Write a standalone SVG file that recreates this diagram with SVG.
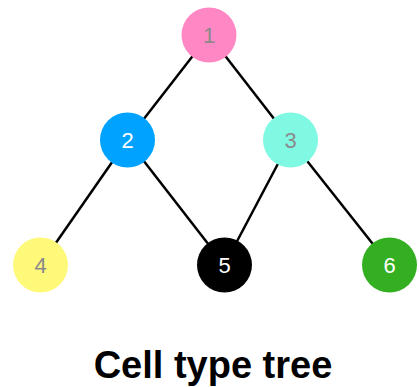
<svg xmlns="http://www.w3.org/2000/svg" width="419" height="387" viewBox="0 0 419 387">
<style>
.edge{stroke:#000;stroke-width:2.5;fill:none}
.lbl{font-family:"Liberation Sans",Arial,sans-serif;font-size:22px;text-anchor:middle;dominant-baseline:central}
.dark{fill:#8a8a8a}
.light{fill:#fff}
.title{font-family:"Liberation Sans",Arial,sans-serif;font-size:38px;font-weight:bold;text-anchor:middle;fill:#000}
</style>
<rect width="419" height="387" fill="#fff"/>
<g id="connectors">
<line class="edge" x1="209" y1="35" x2="127.5" y2="140"/>
<line class="edge" x1="209" y1="35" x2="290.5" y2="140"/>
<line class="edge" x1="127.5" y1="140" x2="40.5" y2="265"/>
<line class="edge" x1="127.5" y1="140" x2="224.5" y2="265"/>
<line class="edge" x1="290.5" y1="140" x2="224.5" y2="265"/>
<line class="edge" x1="290.5" y1="140" x2="389.5" y2="265"/>
</g>
<g id="node1"><circle cx="209" cy="35" r="27.5" fill="#FF88C4"/><text class="lbl dark" x="209" y="35">1</text></g>
<g id="node2"><circle cx="127.5" cy="140" r="27.5" fill="#00A2FF"/><text class="lbl light" x="127.5" y="140">2</text></g>
<g id="node3"><circle cx="290.5" cy="140" r="27.5" fill="#80F9E3"/><text class="lbl dark" x="290.5" y="140">3</text></g>
<g id="node4"><circle cx="40.5" cy="265" r="27.5" fill="#FFF97A"/><text class="lbl dark" x="40.5" y="265">4</text></g>
<g id="node5"><circle cx="224.5" cy="265" r="27.5" fill="#000"/><text class="lbl light" x="224.5" y="265">5</text></g>
<g id="node6"><circle cx="389.5" cy="265" r="27.5" fill="#35AF22"/><text class="lbl light" x="389.5" y="265">6</text></g>
<text class="title" x="213" y="378">Cell type tree</text>
</svg>
